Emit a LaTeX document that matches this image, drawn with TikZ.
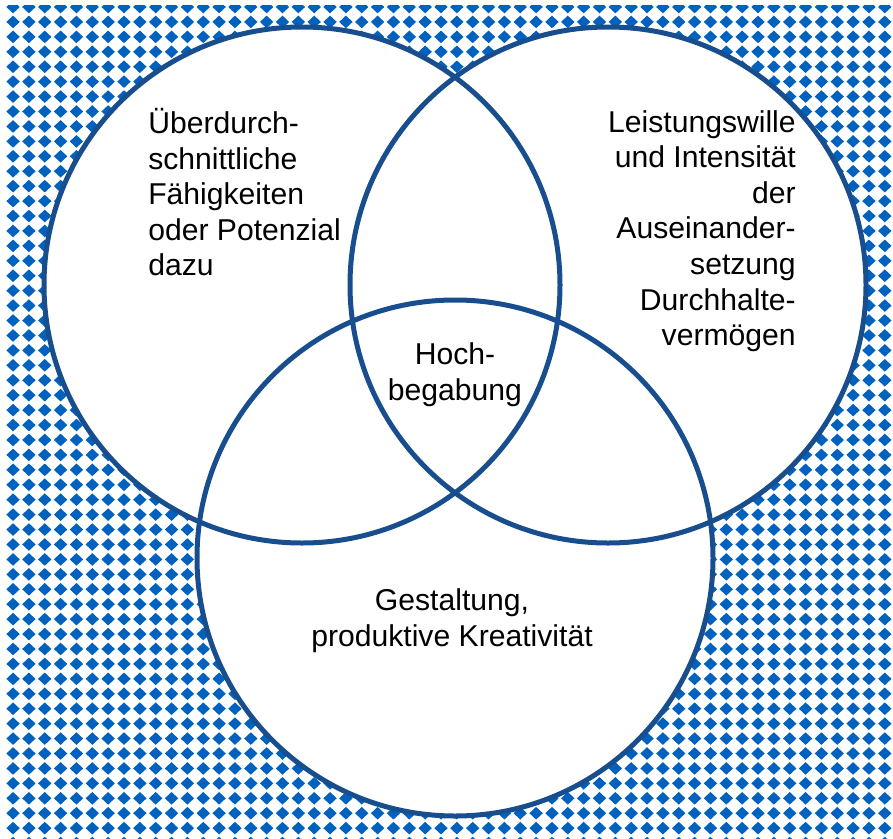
\documentclass[tikz,border=0pt]{standalone}
\usepackage{fontspec}
\setmainfont{Liberation Sans}
\definecolor{musterblau}{RGB}{0,98,190}
\definecolor{kreisblau}{RGB}{24,78,142}
\tikzset{
	kreis/.style={line width=3.75pt, draw=kreisblau},
	beschriftung/.style={inner sep=0pt, font=\fontsize{22.6}{26.7}\selectfont}
}
\begin{document}
\begin{tikzpicture}[x=0.75pt, y=-0.75pt]
	\useasboundingbox (0, 0) rectangle (893, 839);
	% Hintergrundmuster
	\begin{scope}
		\clip (4, 5) rectangle (893, 839);
		\fill[musterblau] \foreach \i in {0,...,57} {
			\foreach \j in {0,...,56} {
				({-2.8 + 15.85*\i}, {7 + 14.93*\j}) ++(-6.7, 0) -- ++(6.7, -6.3)
				-- ++(6.7, 6.3) -- ++(-6.7, 6.3) -- cycle
			}
		};
	\end{scope}
	% Kreise
	\fill[white] (302, 285) circle (258);
	\fill[white] (608, 285) circle (258);
	\fill[white] (455, 558) circle (258);
	\draw[kreis] (302, 285) circle (258);
	\draw[kreis] (608, 285) circle (258);
	\draw[kreis] (455, 558) circle (258);
	% Beschriftungen
	\node[beschriftung, anchor=north west, align=left] (links) at (148, 108)
	{Überdurch-\\schnittliche\\Fähigkeiten\\oder Potenzial\\dazu};
	\node[beschriftung, anchor=north east, align=right] (rechts) at (796, 110)
	{Leistungswille\\und Intensität\\der\\Auseinander-\\setzung\\Durchhalte-\\vermögen};
	\node[beschriftung, align=center] (mitte) at (455, 375) {Hoch-\\begabung};
	\node[beschriftung, align=center] (unten) at (452, 621)
	{Gestaltung,\\produktive Kreativität};
\end{tikzpicture}
\end{document}
